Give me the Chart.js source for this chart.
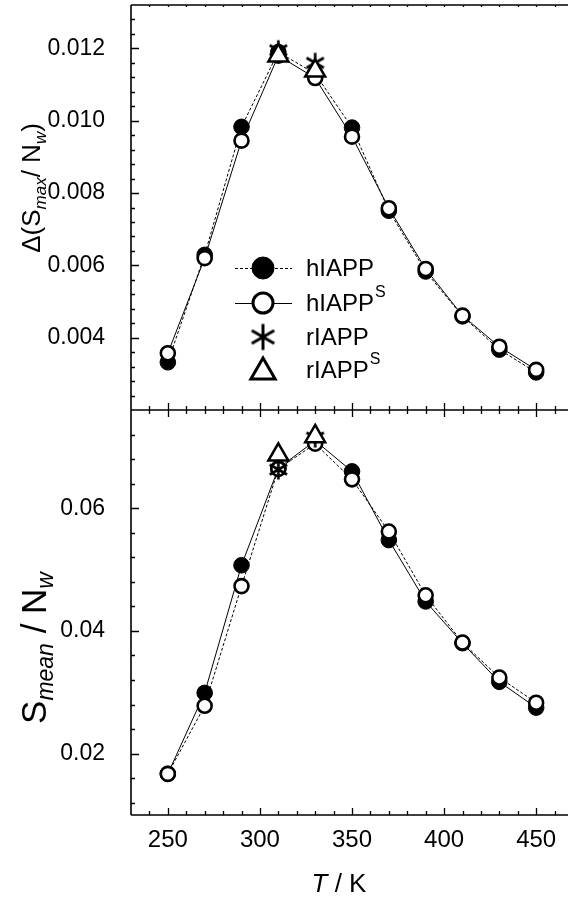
<!DOCTYPE html>
<html>
<head>
<meta charset="utf-8">
<script src="https://cdn.jsdelivr.net/npm/chart.js@4.4.1/dist/chart.umd.min.js"></script>
<style>
  html, body { margin: 0; padding: 0; background: #fff; overflow: hidden; }
  #wrap { position: relative; width: 568px; height: 899px; overflow: hidden; }
  canvas { display: block; }
</style>
</head>
<body>
<div id="wrap"><canvas id="chart" width="573" height="899"></canvas></div>
<script>
const temps = [250, 270, 290, 310, 330, 350, 370, 390, 410, 430, 450];
const rTemps = [310, 330];

// upper panel, delta(Smax / Nw)
const dSmaxH  = [0.00332, 0.00629, 0.00983, 0.01190, 0.01130, 0.00981, 0.00751, 0.00583, 0.00459, 0.00367, 0.00304];
const dSmaxHS = [0.00357, 0.00620, 0.00945, 0.01180, 0.01118, 0.00956, 0.00758, 0.00590, 0.00461, 0.00375, 0.00311];
const dSmaxR  = [0.01195, 0.01160];
const dSmaxRS = [0.01180, 0.01138];

// lower panel, Smean / Nw
const sMeanH  = [0.0167, 0.0299, 0.0507, 0.0665, 0.0710, 0.0660, 0.0548, 0.0448, 0.0380, 0.0317, 0.0275];
const sMeanHS = [0.0167, 0.0278, 0.0473, 0.0664, 0.0705, 0.0647, 0.0562, 0.0458, 0.0381, 0.0324, 0.0283];
const sMeanR  = [0.0663, 0.0715];
const sMeanRS = [0.0687, 0.0717];

const xTicks = [250, 300, 350, 400, 450];
const topTicks = [0.004, 0.006, 0.008, 0.010, 0.012];
const botTicks = [0.02, 0.04, 0.06];

const FONT = "'Liberation Sans', Arial, sans-serif";

function pts(xs, ys) {
  return xs.map((x, i) => ({x: x, y: ys[i]}));
}

// six-armed asterisk used as point style
function asterisk(r, lw) {
  const c = document.createElement('canvas');
  const s = Math.ceil(2 * r + lw + 2);
  c.width = c.height = s;
  const g = c.getContext('2d');
  const m = s / 2;
  g.strokeStyle = '#000';
  g.lineWidth = lw;
  g.beginPath();
  for (let k = 0; k < 3; k++) {
    const a = Math.PI / 2 + k * Math.PI / 3;
    g.moveTo(m + r * Math.cos(a), m + r * Math.sin(a));
    g.lineTo(m - r * Math.cos(a), m - r * Math.sin(a));
  }
  g.stroke();
  return c;
}

const starPoint = asterisk(10, 2.6);
const starLegend = asterisk(13, 3);

function filledSet(label, data, axis, dashed) {
  return {
    label: label, data: data, yAxisID: axis, order: 4,
    borderColor: '#000', borderWidth: 1, borderDash: dashed ? [3, 2] : [],
    pointRadius: 7.8, pointBackgroundColor: '#000', pointBorderColor: '#000', pointBorderWidth: 1
  };
}
function openSet(label, data, axis, dashed) {
  return {
    label: label, data: data, yAxisID: axis, order: 3,
    borderColor: '#000', borderWidth: 1, borderDash: dashed ? [3, 2] : [],
    pointRadius: 7, pointBackgroundColor: '#fff', pointBorderColor: '#000', pointBorderWidth: 2.6
  };
}
function starSet(label, data, axis) {
  return {
    label: label, data: data, yAxisID: axis, order: 2, showLine: false,
    pointStyle: starPoint, pointRadius: 10
  };
}
function triSet(label, data, axis) {
  return {
    label: label, data: data, yAxisID: axis, order: 1, showLine: false,
    pointStyle: 'triangle', pointRadius: 11.5, pointBackgroundColor: '#fff',
    pointBorderColor: '#000', pointBorderWidth: 2.5
  };
}

function fixTicks(values) {
  return function(scale) { scale.ticks = values.map(v => ({value: v})); };
}

// y axes: fixed width, no extra room for the end labels
function fitY(s) {
  s.width = 131;
  s.paddingTop = 0;
  s.paddingBottom = 0;
}
function fitX(s) {
  s.height = 84;
  s.paddingLeft = 0;
  s.paddingRight = 0;
}

// axis frame and inward tick marks
const frame = {
  id: 'frame',
  afterDraw(chart) {
    const {ctx, chartArea: a, scales} = chart;
    const x = scales.x, yT = scales.yTop, yB = scales.yBot;
    const mid = yT.bottom;
    ctx.save();
    ctx.strokeStyle = '#000';
    ctx.lineWidth = 1.6;
    ctx.beginPath();
    ctx.moveTo(a.left, a.top); ctx.lineTo(a.right, a.top);
    ctx.moveTo(a.left, a.top); ctx.lineTo(a.left, a.bottom);
    ctx.moveTo(a.left, mid); ctx.lineTo(a.right, mid);
    ctx.moveTo(a.left, a.bottom); ctx.lineTo(a.right, a.bottom);
    ctx.stroke();

    ctx.lineWidth = 1.3;
    ctx.beginPath();
    for (let t = 240; t <= 470; t += 10) {
      const px = Math.round(x.getPixelForValue(t)) + 0.5;
      const L = t % 50 === 0 ? 7 : 4;
      ctx.moveTo(px, a.bottom); ctx.lineTo(px, a.bottom - L);
      ctx.moveTo(px, mid - L); ctx.lineTo(px, mid + L);
      ctx.moveTo(px, a.top); ctx.lineTo(px, a.top + 2);
    }
    for (let k = 6; k <= 32; k++) {
      const py = Math.round(yT.getPixelForValue(k * 0.0004)) + 0.5;
      const L = k % 5 === 0 ? 8 : 4;
      ctx.moveTo(a.left, py); ctx.lineTo(a.left + L, py);
    }
    for (let k = 3; k <= 18; k++) {
      const py = Math.round(yB.getPixelForValue(k * 0.004)) + 0.5;
      const L = k % 5 === 0 ? 8 : 4;
      ctx.moveTo(a.left, py); ctx.lineTo(a.left + L, py);
    }
    ctx.stroke();
    ctx.restore();
  }
};

function drawParts(ctx, parts, cx) {
  let total = 0;
  parts.forEach(p => { ctx.font = p.f; p.w = ctx.measureText(p.t).width; total += p.w; });
  let x = cx - total / 2;
  parts.forEach(p => { ctx.font = p.f; ctx.fillText(p.t, x, p.dy || 0); x += p.w; });
}

// axis titles and legend
const labels = {
  id: 'labels',
  afterDraw(chart) {
    const ctx = chart.ctx;
    ctx.save();
    ctx.fillStyle = '#000';
    ctx.textBaseline = 'alphabetic';

    ctx.save();
    ctx.translate(40, 188);
    ctx.rotate(-Math.PI / 2);
    const big = '26px ' + FONT, sub = 'italic 17px ' + FONT;
    drawParts(ctx, [
      {t: '\u0394(S', f: big}, {t: 'max', f: sub, dy: 6},
      {t: '/ N', f: big}, {t: 'w', f: sub, dy: 6}, {t: ')', f: big}
    ], 0);
    ctx.restore();

    ctx.save();
    ctx.translate(46, 648);
    ctx.rotate(-Math.PI / 2);
    const big2 = '35px ' + FONT, sub2 = 'italic 23px ' + FONT;
    drawParts(ctx, [
      {t: 'S', f: big2}, {t: 'mean', f: sub2, dy: 7},
      {t: ' / N', f: big2}, {t: 'w', f: sub2, dy: 7}
    ], 0);
    ctx.restore();

    ctx.translate(0, 892);
    drawParts(ctx, [
      {t: 'T', f: 'italic 26px ' + FONT}, {t: ' / K', f: '26px ' + FONT}
    ], 339);
    ctx.restore();

    // legend
    ctx.save();
    const rows = [268, 303, 337, 370];
    const x0 = 235, x1 = 292, xs = 263, xt = 306;
    ctx.strokeStyle = '#000';
    ctx.fillStyle = '#000';
    ctx.lineWidth = 1;
    ctx.setLineDash([3, 2]);
    ctx.beginPath(); ctx.moveTo(x0, rows[0] + 0.5); ctx.lineTo(x1, rows[0] + 0.5); ctx.stroke();
    ctx.setLineDash([]);
    ctx.beginPath(); ctx.moveTo(x0, rows[1] + 0.5); ctx.lineTo(x1, rows[1] + 0.5); ctx.stroke();
    Chart.helpers.drawPoint(ctx, {pointStyle: 'circle', radius: 11, borderWidth: 1}, xs, rows[0]);
    ctx.fillStyle = '#fff'; ctx.lineWidth = 3;
    Chart.helpers.drawPoint(ctx, {pointStyle: 'circle', radius: 10, borderWidth: 3}, xs, rows[1]);
    ctx.drawImage(starLegend, xs - starLegend.width / 2, rows[2] - starLegend.height / 2);
    Chart.helpers.drawPoint(ctx, {pointStyle: 'triangle', radius: 14, borderWidth: 3}, xs, rows[3] + 2);

    ctx.fillStyle = '#000';
    ctx.textBaseline = 'middle';
    const lf = '24px ' + FONT, sf = '16px ' + FONT;
    ['hIAPP', 'hIAPP', 'rIAPP', 'rIAPP'].forEach((t, i) => {
      ctx.font = lf;
      ctx.fillText(t, xt, rows[i] + 1);
      if (i % 2 === 1) {
        const w = ctx.measureText(t).width;
        ctx.font = sf;
        ctx.fillText('S', xt + w + 1, rows[i] - 10);
      }
    });
    ctx.restore();
  }
};

new Chart(document.getElementById('chart'), {
  type: 'line',
  data: {
    datasets: [
      filledSet('hIAPP', pts(temps, dSmaxH), 'yTop', true),
      openSet('hIAPP S', pts(temps, dSmaxHS), 'yTop', false),
      starSet('rIAPP', pts(rTemps, dSmaxR), 'yTop'),
      triSet('rIAPP S', pts(rTemps, dSmaxRS), 'yTop'),
      filledSet('hIAPP', pts(temps, sMeanH), 'yBot', false),
      openSet('hIAPP S', pts(temps, sMeanHS), 'yBot', true),
      starSet('rIAPP', pts(rTemps, sMeanR), 'yBot'),
      triSet('rIAPP S', pts(rTemps, sMeanRS), 'yBot')
    ]
  },
  options: {
    responsive: false,
    animation: false,
    layout: { autoPadding: false, padding: { top: 5, left: 0, right: 0, bottom: 0 } },
    plugins: { legend: { display: false }, tooltip: { enabled: false } },
    elements: { line: { tension: 0 } },
    scales: {
      x: {
        type: 'linear', position: 'bottom', min: 230, max: 470,
        grid: { display: false }, border: { display: false },
        afterBuildTicks: fixTicks(xTicks),
        afterFit: fitX,
        ticks: { color: '#000', font: { family: FONT, size: 24 }, padding: 3, maxRotation: 0,
                 callback: v => String(v) }
      },
      yTop: {
        type: 'linear', position: 'left', stack: 'panels', stackWeight: 1, weight: 2,
        min: 0.002, max: 0.0132,
        grid: { display: false }, border: { display: false },
        afterBuildTicks: fixTicks(topTicks),
        afterFit: fitY,
        ticks: { color: '#000', font: { family: FONT, size: 23 }, padding: 18,
                 callback: v => v.toFixed(3) }
      },
      yBot: {
        type: 'linear', position: 'left', stack: 'panels', stackWeight: 1, weight: 1,
        min: 0.01, max: 0.076,
        grid: { display: false }, border: { display: false },
        afterBuildTicks: fixTicks(botTicks),
        afterFit: fitY,
        ticks: { color: '#000', font: { family: FONT, size: 23 }, padding: 18,
                 callback: v => v.toFixed(2) }
      }
    }
  },
  plugins: [frame, labels]
});
</script>
</body>
</html>
